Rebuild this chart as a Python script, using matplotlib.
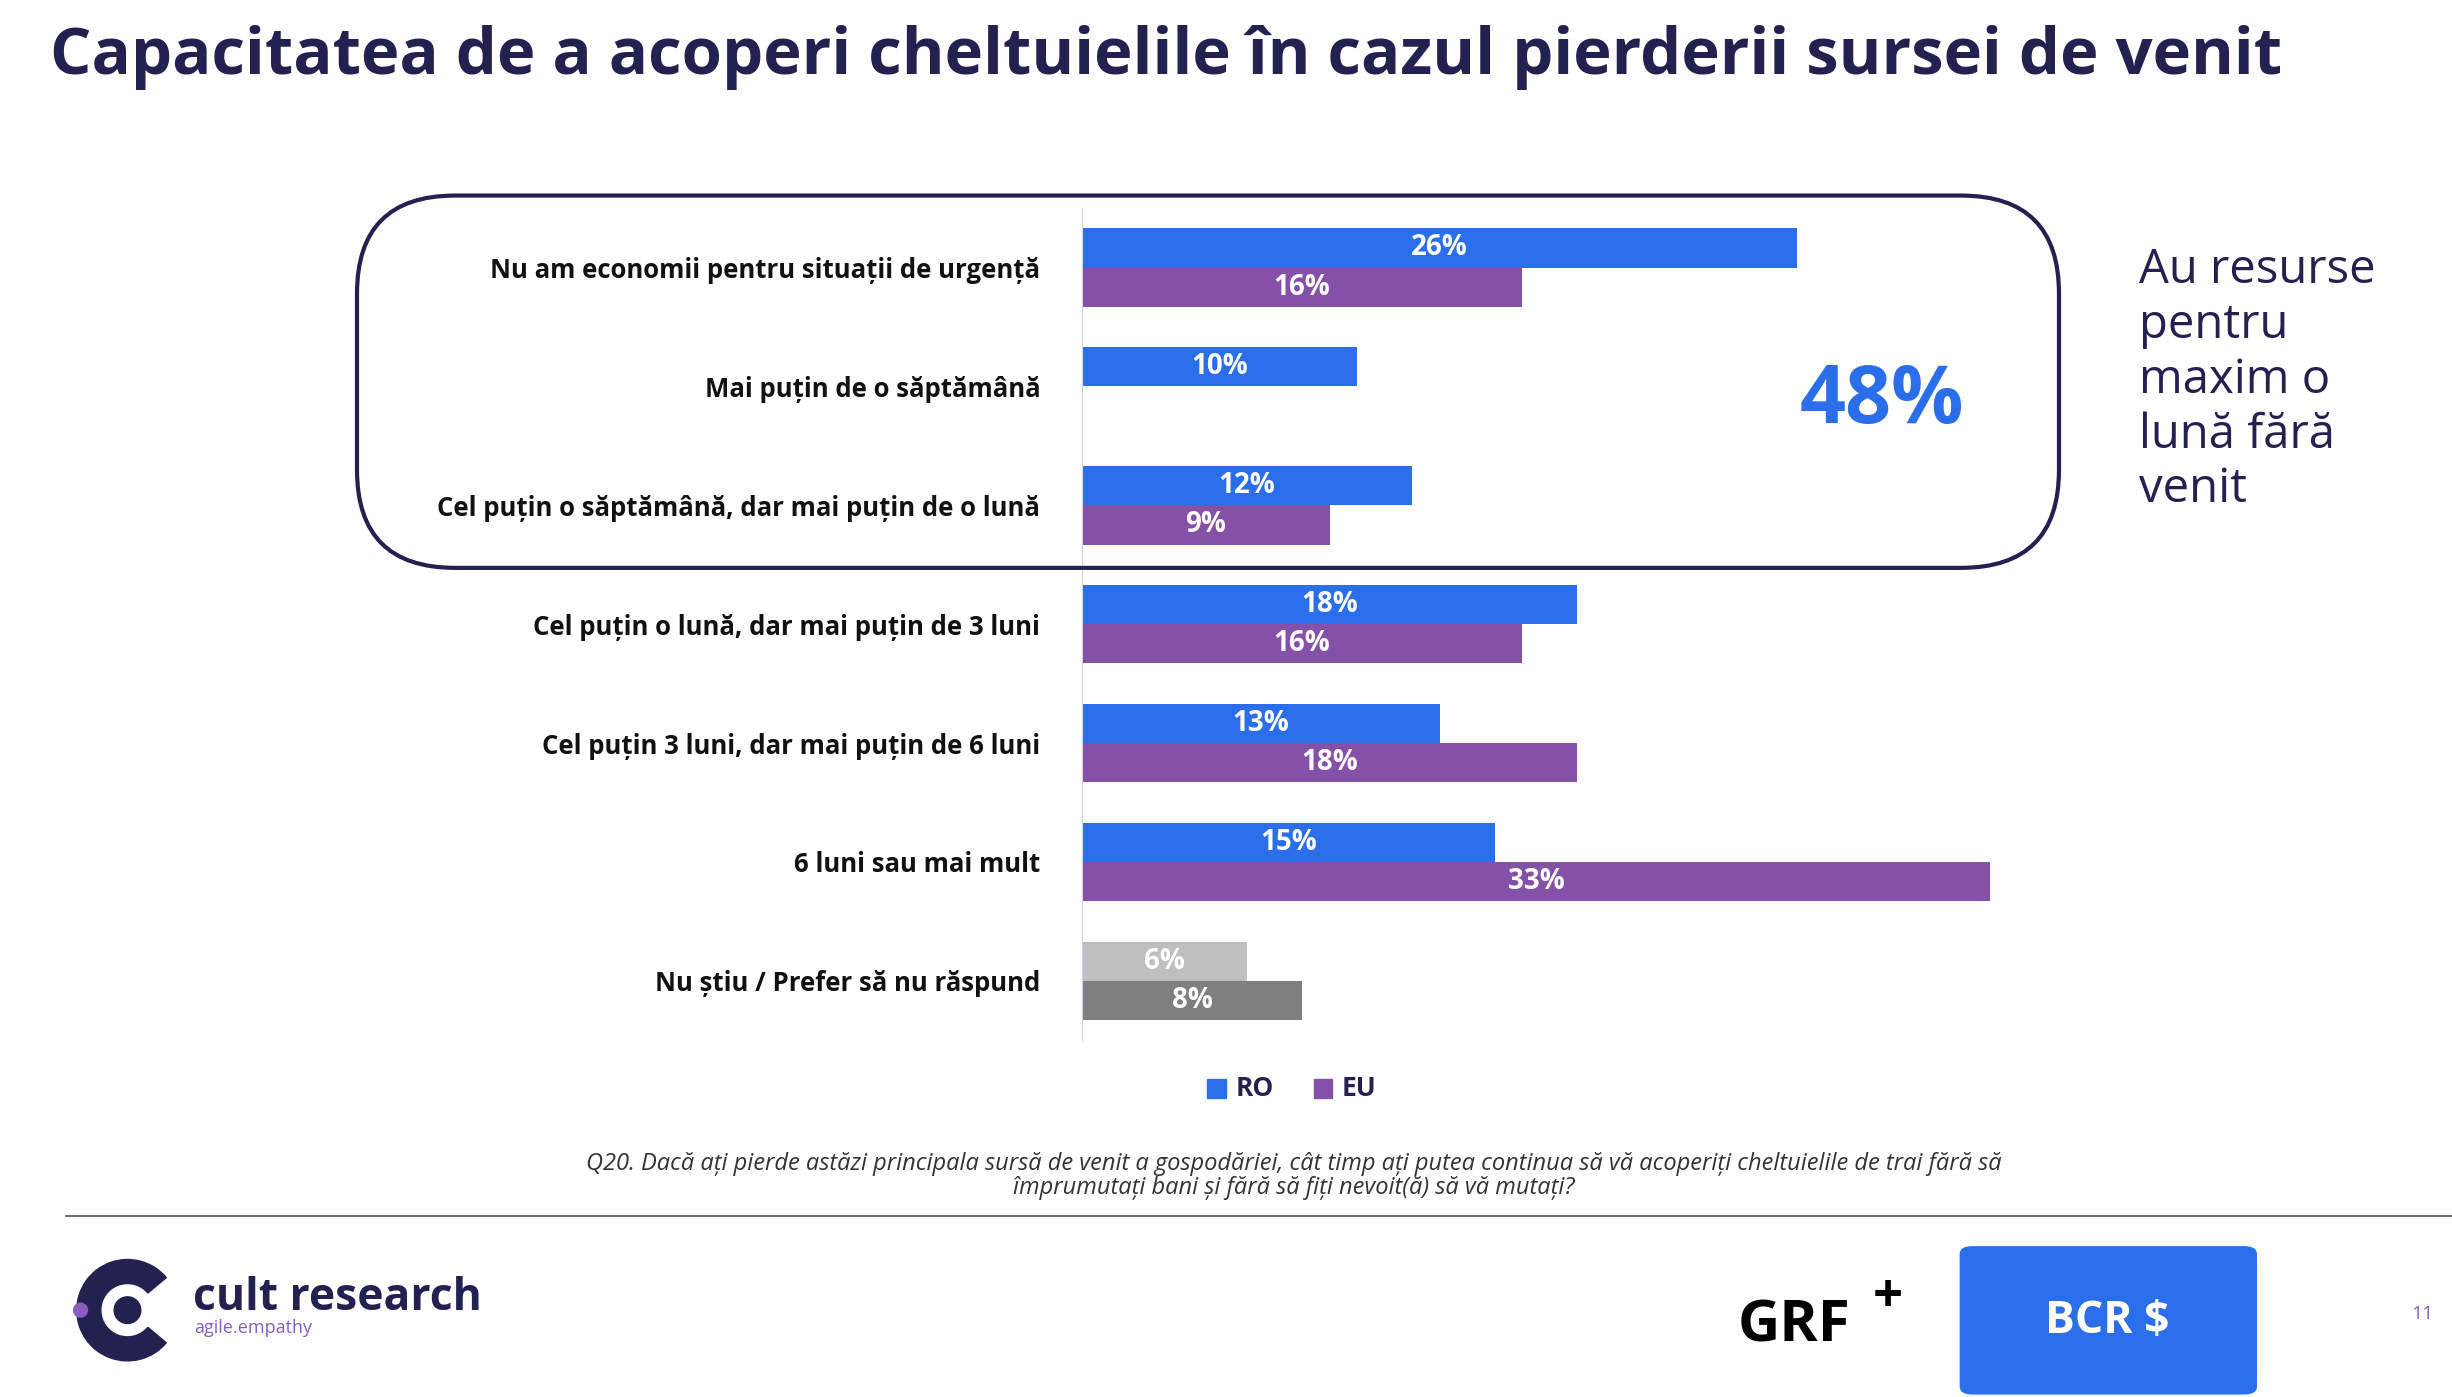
import matplotlib.pyplot as plt
from matplotlib.patches import FancyBboxPatch, Rectangle, Circle, Wedge
import numpy as np

plt.rcParams['font.family'] = ['Open Sans', 'DejaVu Sans']

categories = ["Nu am economii pentru situații de urgență",
              "Mai puțin de o săptămână",
              "Cel puțin o săptămână, dar mai puțin de o lună",
              "Cel puțin o lună, dar mai puțin de 3 luni",
              "Cel puțin 3 luni, dar mai puțin de 6 luni",
              "6 luni sau mai mult",
              "Nu știu / Prefer să nu răspund"]
ro = [26, 10, 12, 18, 13, 15, 6]
eu = [16, None, 9, 16, 18, 33, 8]

NAVY = '#23214f'
BLUE = '#2b6eea'
PURPLE = '#8551a8'

fig = plt.figure(figsize=(24.52, 13.97), dpi=100)
W, H = 1566, 893
def fx(x): return x / W
def fy(y): return 1 - y / H

fig.text(fx(32), fy(37), "Capacitatea de a acoperi cheltuielile în cazul pierderii sursei de venit",
         fontsize=47, fontweight='bold', color=NAVY, va='center')

ax = fig.add_axes([fx(691), fy(665), fx(1306) - fx(691), fy(133) - fy(665)])
n = len(categories)
y = np.arange(n)
h = 0.33
for i in range(n):
    cr = '#bfbfbf' if i == n - 1 else BLUE
    ce = '#7f7f7f' if i == n - 1 else PURPLE
    ax.barh(y[i] - h / 2, ro[i], height=h, color=cr)
    ax.text(ro[i] / 2, y[i] - h / 2, f"{ro[i]}%", color='white', fontsize=20,
            fontweight='bold', ha='center', va='center')
    if eu[i] is not None:
        ax.barh(y[i] + h / 2, eu[i], height=h, color=ce)
        ax.text(eu[i] / 2, y[i] + h / 2, f"{eu[i]}%", color='white', fontsize=20,
                fontweight='bold', ha='center', va='center')
ax.set_ylim(n - 0.5, -0.5)
ax.set_xlim(0, 35)
ax.set_yticks(y)
ax.set_yticklabels(categories, fontsize=18.5, fontweight='bold', color='#111111')
ax.tick_params(axis='y', length=0, pad=30)
ax.set_xticks([])
for s in ['top', 'right', 'bottom']:
    ax.spines[s].set_visible(False)
ax.spines['left'].set_color('#d0d0e0')

box = FancyBboxPatch((fx(228), fy(363)), fx(1315) - fx(228), fy(125) - fy(363),
                     boxstyle="round,pad=0,rounding_size=0.04", transform=fig.transFigure,
                     fill=False, edgecolor=NAVY, linewidth=3, mutation_aspect=W / H)
fig.add_artist(box)
fig.text(fx(1202), fy(257), "48%", fontsize=58, fontweight='bold', color=BLUE, ha='center', va='center')
fig.text(fx(1366), fy(243), "Au resurse\npentru\nmaxim o\nlună fără\nvenit", fontsize=34,
         color=NAVY, ha='left', va='center', linespacing=1.2)

# legend
fig.add_artist(Rectangle((fx(771), fy(702)), fx(12), fy(690) - fy(702), color=BLUE, transform=fig.transFigure))
fig.text(fx(789), fy(696), "RO", fontsize=19, fontweight='bold', color=NAVY, va='center')
fig.add_artist(Rectangle((fx(839), fy(702)), fx(12), fy(690) - fy(702), color=PURPLE, transform=fig.transFigure))
fig.text(fx(857), fy(696), "EU", fontsize=19, fontweight='bold', color=NAVY, va='center')

fig.text(fx(826), fy(752), "Q20. Dacă ați pierde astăzi principala sursă de venit a gospodăriei, cât timp ați putea continua să vă acoperiți cheltuielile de trai fără să\nîmprumutați bani și fără să fiți nevoit(ă) să vă mutați?",
         fontsize=17, style='italic', color='#333333', ha='center', va='center', linespacing=1.0)
fig.add_artist(plt.Line2D([fx(42), fx(1566)], [fy(777), fy(777)], color='#555555', lw=1.2, transform=fig.transFigure))

# logos
lax = fig.add_axes([fx(40), fy(875), fx(76), fy(800) - fy(875)])
lax.set_aspect('equal')
lax.set_xlim(-1.1, 1.1)
lax.set_ylim(-1.1, 1.1)
lax.axis('off')
lax.add_patch(Wedge((0.1, 0), 0.95, 40, 320, width=0.45, color=NAVY))
lax.add_patch(Circle((0.1, 0), 0.25, color=NAVY))
lax.add_patch(Circle((-0.78, 0), 0.13, color='#8a5cc4'))
fig.text(fx(123), fy(830), "cult research", fontsize=32, fontweight='bold', color=NAVY, va='center')
fig.text(fx(124), fy(849), "agile.empathy", fontsize=13, color='#8a5cc4', va='center')
fig.text(fx(1110), fy(848), "GRF", fontsize=42, fontweight='bold', color='black', va='center')
fig.text(fx(1196), fy(830), "+", fontsize=38, fontweight='bold', color='black', va='center')
fig.add_artist(FancyBboxPatch((fx(1252), fy(891)), fx(189), fy(797) - fy(891),
                              boxstyle="round,pad=0,rounding_size=0.005", color=BLUE, transform=fig.transFigure))
fig.text(fx(1346), fy(845), "BCR $", fontsize=32, fontweight='bold', color='white', ha='center', va='center')
fig.text(fx(1547), fy(840), "11", fontsize=14, color='#8a5cc4', ha='center', va='center')

fig.savefig("out.png", dpi=100)
